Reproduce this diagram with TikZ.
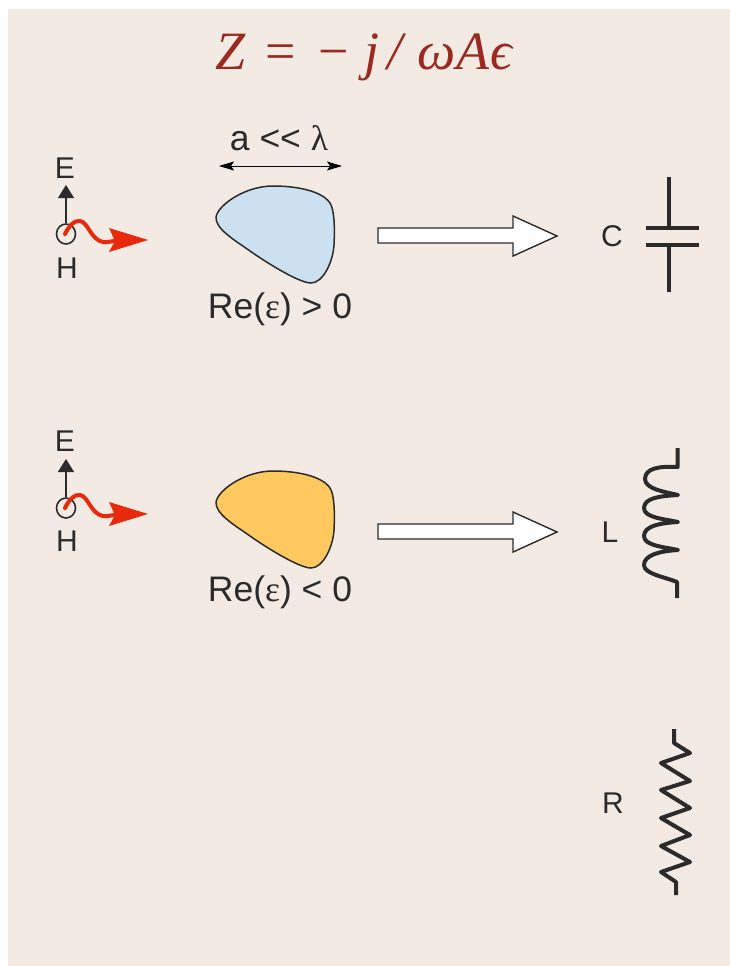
\documentclass[tikz,border=0pt]{standalone}
\usepackage{fontspec}
\setmainfont{Liberation Sans}
\newfontfamily\serifgr{Liberation Serif}
\usetikzlibrary{arrows.meta,shapes.geometric}
\definecolor{panelbg}{HTML}{F3EAE3}
\definecolor{ink}{HTML}{2B2B2B}
\definecolor{titlered}{HTML}{9A2A20}
\definecolor{wavered}{HTML}{E8290B}
\definecolor{blobblue}{HTML}{CBE1F1}
\definecolor{bloborange}{HTML}{FFC95F}
\newcommand{\blobshape}{(216,217) .. controls (218,205) and (245,186) .. (273,186)
  .. controls (297,186) and (322,191) .. (330,203)
  .. controls (334,209) and (335,225) .. (334,245)
  .. controls (333,262) and (323,283) .. (311,283)
  .. controls (300,283) and (270,265) .. (250,251)
  .. controls (236,241) and (215,229) .. (216,217) -- cycle}
\tikzset{
  x=1pt,y=-1pt,
  lbl/.style={font=\fontsize{30}{34}\selectfont,text=ink,inner sep=0pt,outer sep=0pt},
  biglbl/.style={font=\fontsize{35.5}{40}\selectfont,text=ink,inner sep=0pt,outer sep=0pt},
  titletext/.style={font=\fontsize{54}{60}\selectfont,text=titlered,inner sep=0pt,anchor=base west},
  blob/.style={draw=ink,line width=1.5pt,line join=round},
  fieldline/.style={draw=ink,line width=1.3pt},
  efield/.style={fieldline,-{Triangle[length=13pt,width=16pt]}},
  hring/.style={draw=ink,line width=1.6pt,ellipse,minimum width=19pt,minimum height=20pt,inner sep=0pt,fill=none},
  wave/.style={draw=wavered,line width=4pt,line cap=round},
  wavehead/.style={fill=wavered,draw=none},
  dimline/.style={draw=black,line width=1pt,{Stealth[length=15pt,width=9pt,inset=3pt]}-{Stealth[length=15pt,width=9pt,inset=3pt]}},
  hollow/.style={draw=ink,line width=1.4pt,fill=white,line join=miter},
  comp/.style={draw=ink,line width=4pt,line join=round},
}
\begin{document}
\begin{tikzpicture}
\useasboundingbox (0,0) rectangle (730,966);
\fill[white] (0,0) rectangle (730,966);
\fill[panelbg] (8,9) rectangle (730,966);
% title
\node[titletext] (title) at (215,70) {\serifgr\itshape Z\hspace{20pt}\upshape=\hspace{23pt}−\hspace{15pt}\itshape j\hspace{8pt}/\hspace{15pt}ω\hspace{1pt}A\hspace{1pt}ϵ};
% --- top row ---
\node[lbl] (e1) at (65,168) {E};
\node[lbl] (h1txt) at (67,268) {H};
\node[hring] (h1) at (66,234) {};
\coordinate (e1tip) at (66,185);
\draw[efield] (h1.north) -- (e1tip);
\draw[wave] (65,234) .. controls (69,226) and (74,220) .. (80,221) .. controls (88,222) and (91,240) .. (103,242) .. controls (107,243) and (110,241) .. (116,241);
\fill[wavehead] (148,240) -- (109,228) -- (115,241) -- (109,252) -- cycle;
\node[biglbl] (size) at (279,138) {a {\textless}{\textless} {\serifgr λ}};
\coordinate (dimL) at (219,166);
\coordinate (dimR) at (342,166);
\draw[dimline] (dimL) -- (dimR);
\draw[blob,fill=blobblue] \blobshape;
\node[biglbl] (re1) at (280,309) {Re({\serifgr ε}) > 0};
\draw[hollow] (378,228) -- (513,228) -- (513,216) -- (557,236) -- (513,256) -- (513,243) -- (378,243) -- cycle;
\node[lbl] (c) at (612,236) {C};
\coordinate (c1) at (669,177);
\coordinate (c2) at (669,228);
\coordinate (c3) at (669,245);
\coordinate (c4) at (669,292);
\draw[comp] (c1) -- (c2);
\draw[comp] (646,228) -- (699,228);
\draw[comp] (646,245) -- (699,245);
\draw[comp] (c3) -- (c4);
% --- middle row ---
\node[lbl] (e2) at (65,441) {E};
\node[lbl] (h2txt) at (67,541) {H};
\node[hring] (h2) at (66,508) {};
\coordinate (e2tip) at (66,459);
\draw[efield] (h2.north) -- (e2tip);
\begin{scope}[yshift=-274pt]
\draw[wave] (65,234) .. controls (69,226) and (74,220) .. (80,221) .. controls (88,222) and (91,240) .. (103,242) .. controls (107,243) and (110,241) .. (116,241);
\fill[wavehead] (148,240) -- (109,228) -- (115,241) -- (109,252) -- cycle;
\end{scope}
\begin{scope}[yshift=-285pt]
\draw[blob,fill=bloborange] \blobshape;
\end{scope}
\node[biglbl] (re2) at (280,592) {Re({\serifgr ε}) < 0};
\begin{scope}[yshift=-296pt]
\draw[hollow] (378,228) -- (513,228) -- (513,216) -- (557,236) -- (513,256) -- (513,243) -- (378,243) -- cycle;
\end{scope}
\node[lbl] (l) at (610,532) {L};
\draw[comp,line cap=butt] (677.7,448) -- (677.7,467) .. controls (660,466) and (645,468) .. (645,479)
  .. controls (645,489) and (665,492) .. (678,495)
  .. controls (660,496) and (644,498) .. (644,508)
  .. controls (644,518) and (665,519) .. (678,522)
  .. controls (660,523) and (644,526) .. (644,536)
  .. controls (644,546) and (665,547) .. (678,550)
  .. controls (660,551) and (644,555) .. (644,565)
  .. controls (644,574) and (665,577) .. (677,582) -- (677,598);
% --- bottom row ---
\node[lbl] (r) at (613,803) {R};
\draw[comp] (674,729) -- (674,743) -- (690,753) -- (661,763) -- (690,781) -- (661,790) -- (690,808) -- (661,818) -- (690,835) -- (661,846) -- (690,862) -- (661,872) -- (676,882) -- (676,895);
\end{tikzpicture}
\end{document}
